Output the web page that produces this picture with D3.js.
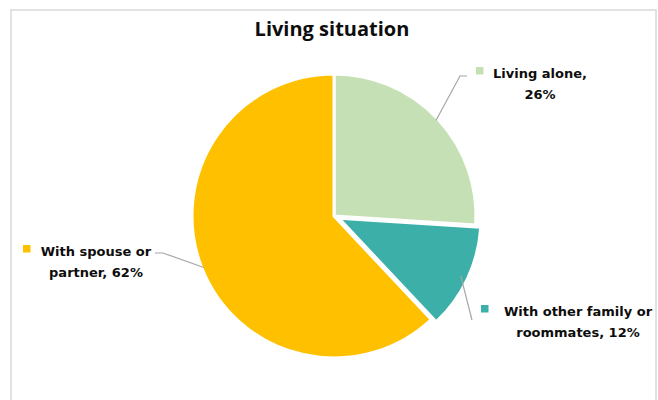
<!DOCTYPE html>
<html>
<head>
<meta charset="utf-8">
<script src="https://cdn.jsdelivr.net/npm/d3@7"></script>
<style>
  html, body { margin: 0; padding: 0; background: #fff; }
  svg { display: block; }
  text { font-family: "DejaVu Sans", sans-serif; font-weight: 700; fill: #0d0d0d; }
  text.title { font-family: "Open Sans", "DejaVu Sans", sans-serif; }
</style>
</head>
<body>
<svg id="chart" width="658" height="400"></svg>
<script>
// Living situation shares (percent)
const categories = ["Living alone", "With other family or roommates", "With spouse or partner"];
const values = [26, 12, 62];
const colors = ["#C5E0B4", "#3CAFA8", "#FFC000"];
// number of words on the first line of each label
const breakAfterWords = [2, 4, 3];
// slice pulled out from the centre
const explodedIndex = 1;

const W = 658, H = 400;
const cx = 334, cy = 216, R = 142, explode = 5.5;

// label block layout: centre x, first baseline, marker x, leader elbow
const labelLayout = [
  { x: 540, y: 78, marker: 476, elbow: [460, 76], end: [467, 76] },
  { x: 578, y: 316, marker: 481, elbow: null, end: [472, 320] },
  { x: 96, y: 256, marker: 23, elbow: [163, 253], end: [155, 253] }
];

const svg = d3.select("#chart");

// chart frame
svg.append("rect")
  .attr("x", 11).attr("y", 10)
  .attr("width", 645).attr("height", 420)
  .attr("fill", "#fff")
  .attr("stroke", "#d9d9d9")
  .attr("stroke-width", 1.5);

svg.append("text")
  .attr("class", "title")
  .attr("x", 332).attr("y", 36)
  .attr("text-anchor", "middle")
  .style("font-size", "20px")
  .text("Living situation");

const pie = d3.pie().sort(null).value(d => d)(values);
const arc = d3.arc().innerRadius(0).outerRadius(R);
const g = svg.append("g").attr("transform", `translate(${cx},${cy})`);

function midPoint(d, r) {
  const a = (d.startAngle + d.endAngle) / 2;
  return [Math.sin(a) * r, -Math.cos(a) * r];
}

// leader lines (under the slices)
const leaders = svg.append("g");
pie.forEach((d, i) => {
  const L = labelLayout[i];
  const p = midPoint(d, R - 2);
  const pts = [[cx + p[0], cy + p[1]]];
  if (L.elbow) pts.push(L.elbow);
  pts.push(L.end);
  leaders.append("path")
    .attr("d", d3.line()(pts))
    .attr("fill", "none")
    .attr("stroke", "#a6a6a6")
    .attr("stroke-width", 1.2);
});

g.selectAll("path.slice")
  .data(pie)
  .join("path")
  .attr("class", "slice")
  .attr("d", arc)
  .attr("fill", (d, i) => colors[i])
  .attr("stroke", "#fff")
  .attr("stroke-width", 3)
  .attr("stroke-linejoin", "round")
  .attr("transform", (d, i) => {
    if (i !== explodedIndex) return null;
    const o = midPoint(d, explode);
    return `translate(${o[0]},${o[1]})`;
  });

// data labels
pie.forEach((d, i) => {
  const L = labelLayout[i];
  const words = `${categories[i]}, ${values[i]}%`.split(" ");
  const lines = [words.slice(0, breakAfterWords[i]).join(" "), words.slice(breakAfterWords[i]).join(" ")];
  const t = svg.append("text")
    .attr("text-anchor", "middle")
    .style("font-size", "13px");
  lines.forEach((ln, k) => {
    t.append("tspan").attr("x", L.x).attr("y", L.y + k * 20.5).text(ln);
  });
  svg.append("rect")
    .attr("x", L.marker).attr("y", L.y - 11)
    .attr("width", 7.5).attr("height", 7.5)
    .attr("fill", colors[i]);
});
</script>
</body>
</html>
